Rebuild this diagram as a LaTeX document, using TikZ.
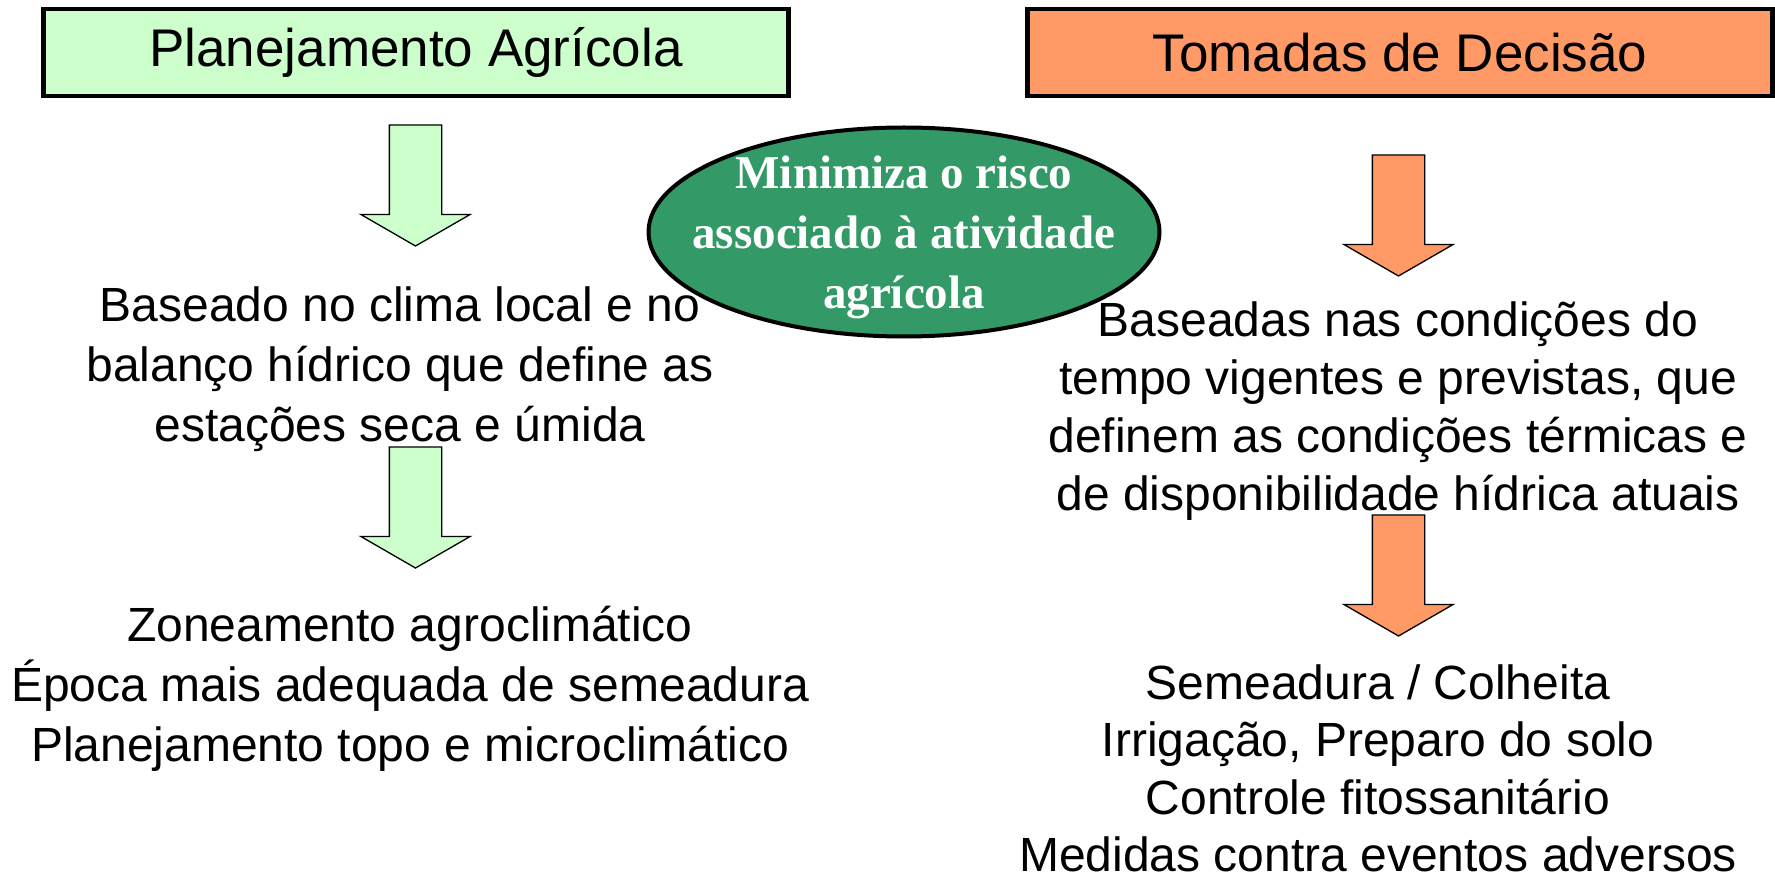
\documentclass[tikz,border=0pt]{standalone}
\usepackage{fontspec}
\setmainfont{Liberation Sans}
\newfontfamily\riskfont{Liberation Serif}
\usepackage{xcolor}
\usetikzlibrary{shapes.geometric,shapes.arrows}

\definecolor{planfill}{HTML}{CCFFCC}
\definecolor{decfill}{HTML}{FF9966}
\definecolor{riskfill}{HTML}{339966}

\begin{document}
\begin{tikzpicture}[x=1pt, y=-1pt,
    titlebox/.style={rectangle, draw, line width=4.5pt, minimum width=745pt,
      minimum height=87pt, font=\fontsize{53}{64}\selectfont},
    downarrow/.style={single arrow, draw, line width=1.3pt, rotate=-90,
      anchor=tail, minimum height=121pt, minimum width=108pt,
      single arrow head extend=28.5pt, single arrow tip angle=120,
      inner xsep=0pt, inner ysep=25.5pt, outer sep=0pt},
    bodytext/.style={align=center, inner sep=0pt,
      font=\fontsize{48}{60}\selectfont}]
    \useasboundingbox (0,0) rectangle (1775,877);
    % Nodes
    \node (plan) [titlebox, fill=planfill] at (416,52.5)
    {Planejamento Agrícola};
    \node (decision) [titlebox, fill=decfill] at (1400,52.5)
    {Tomadas de Decisão};
    \node (climate) [bodytext] at (400,369) {Baseado no clima local e no\\
      balanço hídrico que define as\\ estações seca e úmida};
    \node (zoning) [bodytext] at (410,689) {Zoneamento agroclimático\\
      Época mais adequada de semeadura\\ Planejamento topo e microclimático};
    \node (weather) [bodytext, font=\fontsize{48}{58}\selectfont]
    at (1398,411.5) {Baseadas nas condições do\\
      tempo vigentes e previstas, que\\ definem as condições térmicas e\\
      de disponibilidade hídrica atuais};
    \node (actions) [bodytext, font=\fontsize{48}{57.5}\selectfont,
      text depth=0pt] at (1378,768) {Semeadura / Colheita\\
      Irrigação, Preparo do solo\\ Controle fitossanitário\\
      Medidas contra eventos adversos};
    \node (risk) [ellipse, draw, line width=4pt, fill=riskfill, text=white,
      minimum width=511pt, minimum height=209pt, inner xsep=-40pt,
      inner ysep=-15pt, align=center, text depth=0pt,
      font=\riskfont\bfseries\fontsize{47}{60}\selectfont] at (904,232)
    {Minimiza o risco\\ associado à atividade\\ agrícola};

    % Links
    \node (planarrow1) [downarrow, fill=planfill] at (415.5,125) {};
    \node (planarrow2) [downarrow, fill=planfill] at (415.5,447) {};
    \node (decarrow1) [downarrow, fill=decfill] at (1398.5,155) {};
    \node (decarrow2) [downarrow, fill=decfill] at (1398.5,515) {};
  \end{tikzpicture}
\end{document}
